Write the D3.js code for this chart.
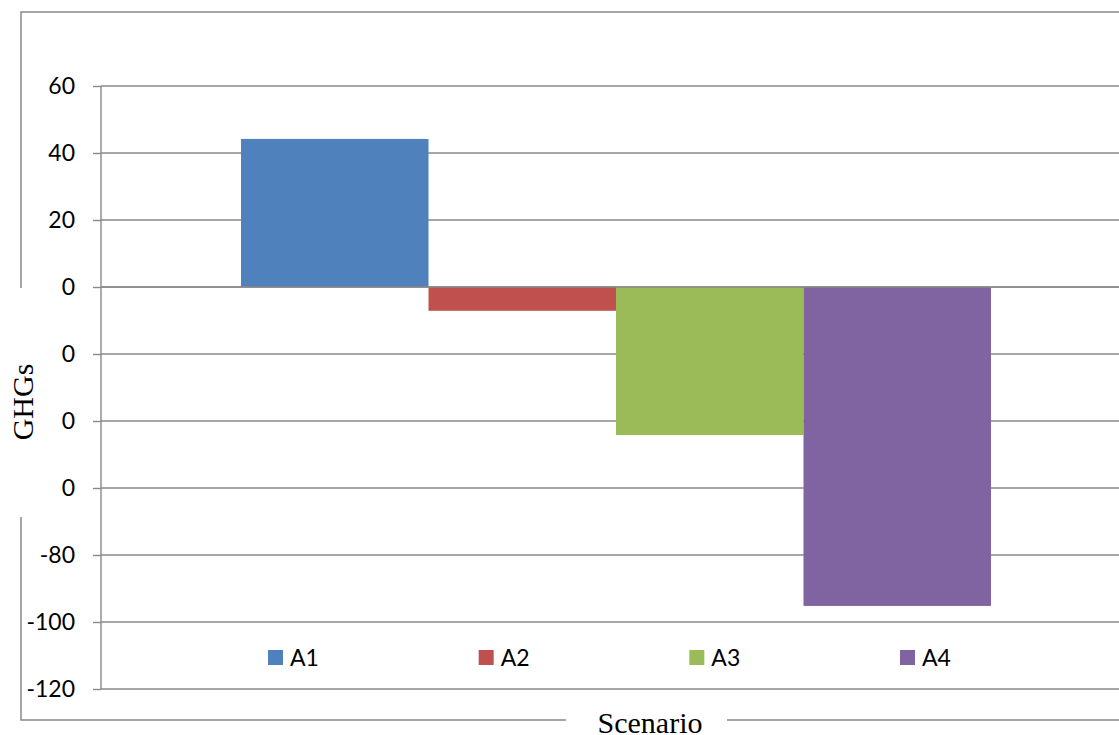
<!DOCTYPE html>
<html>
<head>
<meta charset="utf-8">
<script src="https://cdn.jsdelivr.net/npm/d3@7/dist/d3.min.js"></script>
<style>
  html, body { margin: 0; padding: 0; background: #fff; }
  svg { display: block; }
</style>
</head>
<body>
<svg id="chart" width="1119" height="735"></svg>
<script>
// Scenario results (GHGs)
const categories = ["Scenario"];
const seriesNames = ["A1", "A2", "A3", "A4"];
const seriesValues = [44.2, -7.1, -44.2, -95.2];
const seriesColors = ["#4F81BD", "#C0504D", "#9BBB59", "#8064A2"];
const tickValues = [60, 40, 20, 0, -20, -40, -60, -80, -100, -120];
const tickLabels = ["60", "40", "20", "0", "0", "0", "0", "-80", "-100", "-120"];

const svg = d3.select("#chart");
const W = 1119, H = 735;
const plot = { left: 101, right: 1131, top: 86, bottom: 689 };
const gridColor = "#898989";
const labelFont = "Lato, 'Open Sans', sans-serif";
const titleFont = "'Liberation Serif', 'DejaVu Serif', serif";

svg.append("rect").attr("width", W).attr("height", H).attr("fill", "#fff");

// chart frame
svg.append("rect")
  .attr("x", 21).attr("y", 12)
  .attr("width", W + 20).attr("height", 720 - 12)
  .attr("fill", "none").attr("stroke", gridColor).attr("stroke-width", 1.5);

const y = d3.scaleLinear().domain([-120, 60]).range([plot.bottom, plot.top]);

const x0 = d3.scaleBand().domain(categories)
  .range([plot.left, plot.right]).paddingInner(0).paddingOuter(0.1867);
const x1 = d3.scaleBand().domain(seriesNames)
  .range([0, x0.bandwidth()]).padding(0);

// horizontal gridlines + y axis
const yAxis = d3.axisLeft(y)
  .tickValues(tickValues)
  .tickSize(8)
  .tickPadding(18)
  .tickFormat((d, i) => tickLabels[i]);

const gAxis = svg.append("g").attr("transform", `translate(${plot.left},0)`).call(yAxis);
gAxis.select(".domain").remove();
gAxis.selectAll(".tick line").attr("stroke", gridColor).attr("stroke-width", 1.4);
gAxis.selectAll(".tick text")
  .attr("fill", "#000")
  .style("font-family", labelFont)
  .style("font-size", "23px");

svg.append("g").selectAll("line").data(tickValues).join("line")
  .attr("x1", plot.left).attr("x2", W)
  .attr("y1", d => y(d)).attr("y2", d => y(d))
  .attr("stroke", gridColor).attr("stroke-width", 1.4);

// bars
const data = seriesNames.map((s, i) => ({ cat: categories[0], name: s, value: seriesValues[i], color: seriesColors[i] }));
svg.append("g").selectAll("rect").data(data).join("rect")
  .attr("x", d => x0(d.cat) + x1(d.name))
  .attr("width", x1.bandwidth())
  .attr("y", d => y(Math.max(0, d.value)))
  .attr("height", d => Math.abs(y(d.value) - y(0)))
  .attr("fill", d => d.color);

// zero line on top of bars
svg.append("line")
  .attr("x1", plot.left).attr("x2", W)
  .attr("y1", y(0)).attr("y2", y(0))
  .attr("stroke", gridColor).attr("stroke-width", 1.4);

// vertical axis line
svg.append("line")
  .attr("x1", plot.left).attr("x2", plot.left)
  .attr("y1", y(60)).attr("y2", y(-120))
  .attr("stroke", gridColor).attr("stroke-width", 1.4);

// legend
const legendX = d3.scalePoint().domain(seriesNames).range([268, 900]);
const legend = svg.append("g").selectAll("g").data(data).join("g")
  .attr("transform", d => `translate(${legendX(d.name)},650)`);
legend.append("rect").attr("width", 15).attr("height", 15).attr("fill", d => d.color);
legend.append("text")
  .attr("x", 22).attr("y", 15.5)
  .style("font-family", labelFont).style("font-size", "23px")
  .attr("fill", "#000")
  .text(d => d.name);

// axis titles with white backing over the frame
svg.append("rect").attr("x", 8).attr("y", 288).attr("width", 30).attr("height", 229).attr("fill", "#fff");
svg.append("text")
  .attr("transform", "translate(33,402) rotate(-90)")
  .attr("text-anchor", "middle")
  .style("font-family", titleFont).style("font-size", "30px")
  .attr("fill", "#000")
  .text("GHGs");

svg.append("rect").attr("x", 566).attr("y", 705).attr("width", 161).attr("height", 30).attr("fill", "#fff");
svg.append("text")
  .attr("x", 650).attr("y", 733)
  .attr("text-anchor", "middle")
  .style("font-family", titleFont).style("font-size", "30px")
  .attr("fill", "#000")
  .text("Scenario");
</script>
</body>
</html>
